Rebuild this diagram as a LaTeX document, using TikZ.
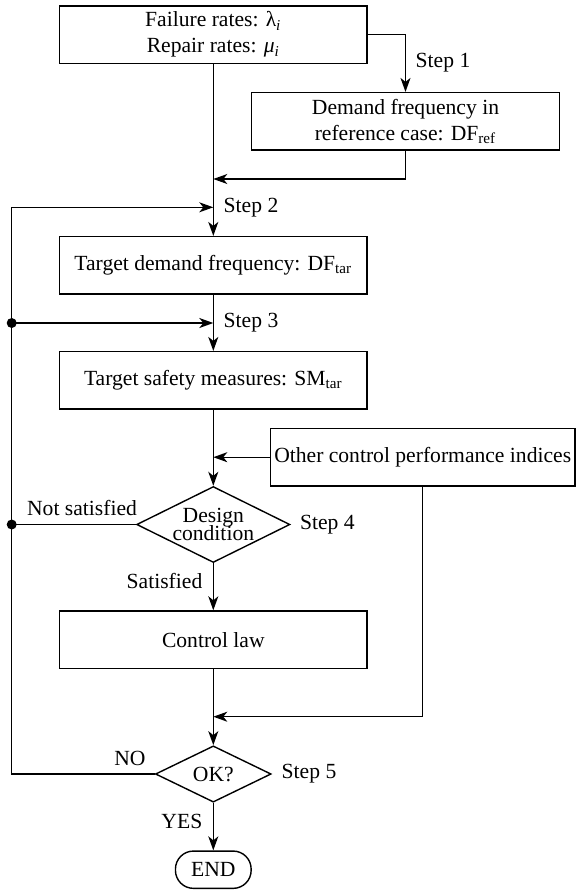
\documentclass[tikz,border=0pt]{standalone}
\usepackage{fontspec}
\setmainfont{Liberation Serif}
\usepackage{tikz}
\usetikzlibrary{arrows.meta, positioning, shapes.geometric, calc}

\begin{document}
\begin{tikzpicture}[
        x=0.5pt, y=-0.5pt,
        font=\fontsize{10.8}{13}\selectfont,
        line width=0.7pt,
        box/.style={draw, align=center, minimum width=153.75pt, minimum height=28.7pt, inner sep=2pt},
        cond/.style={draw, diamond, aspect=2, align=center, inner sep=-0.5pt, font={\fontsize{10.8}{9.3}\selectfont\lineskiplimit-6pt\relax}},
        endbox/.style={draw, rounded corners=9pt, minimum width=37.85pt, minimum height=18.65pt, inner sep=1pt},
        tag/.style={inner sep=1pt},
        arrow/.style={-{Stealth[length=7pt, width=5pt, inset=2pt]}},
        dot/.style={circle, fill, inner sep=0pt, minimum size=5pt}
    ]
        \useasboundingbox (0,0) rectangle (576,891);

        \node[box] (src) at (213.3,34.5) {Failure rates: λ\textsubscript{\itshape i}\\Repair rates: {\itshape μ}\textsubscript{\itshape i}};
        \node[box, minimum width=154pt] (dfref) at (405.5,121.3) {Demand frequency in\\reference case: DF\textsubscript{ref}};
        \node[box] (dftar) at (213.3,265.3) {Target demand frequency: DF\textsubscript{tar}};
        \node[box] (smtar) at (213.3,380.3) {Target safety measures: SM\textsubscript{tar}};
        \node[box, minimum width=152pt] (other) at (422.7,457.2) {Other control performance indices};
        \node[cond, minimum width=76.65pt, minimum height=38pt] (design) at (213.3,524.5) {Design\\condition};
        \node[box] (law) at (213.3,639.7) {Control law};
        \node[cond, minimum width=57.85pt, minimum height=28.15pt] (ok) at (213.3,774) {OK?};
        \node[endbox] (stop) at (213.3,869.7) {END};

        \coordinate (ret) at (213.3,179);
        \coordinate (loop) at (213.3,207.3);
        \coordinate (fb) at (213.3,323);
        \coordinate (in1) at (213.3,457.2);
        \coordinate (in2) at (213.3,716.7);
        \coordinate (railtop) at (11.7,207.3);
        \coordinate (railbot) at (11.7,774);
        \node[dot] (dot3) at (11.7,323) {};
        \node[dot] (dot4) at (11.7,524.5) {};

        \draw[arrow] (src.east) -| (dfref.north);
        \draw[arrow] (src.south) -- (dftar.north);
        \draw[arrow] (dfref.south) |- (ret);
        \draw[arrow] (ok.west) -- (railbot) -- (railtop) -- (loop);
        \draw[arrow] (dot3.center) -- (fb);
        \draw (design.west) -- (dot4.center);
        \draw[arrow] (dftar.south) -- (smtar.north);
        \draw[arrow] (smtar.south) -- (design.north);
        \draw[arrow] (other.west) -- (in1);
        \draw[arrow] (design.south) -- (law.north);
        \draw[arrow] (law.south) -- (ok.north);
        \draw[arrow] (other.south) |- (in2);
        \draw[arrow] (ok.south) -- (stop.north);

        \node[tag, anchor=west] (s1) at (413,62.3) {Step 1};
        \node[tag, anchor=west] (s2) at (221,207.3) {Step 2};
        \node[tag, anchor=west] (s3) at (221,323) {Step 3};
        \node[tag, anchor=west] (s4) at (297.4,524.5) {Step 4};
        \node[tag, anchor=west] (s5) at (279,774) {Step 5};
        \node[tag] (ns) at (82,508) {Not satisfied};
        \node[tag, anchor=east] (sat) at (205,580.7) {Satisfied};
        \node[tag] (no) at (130,758) {NO};
        \node[tag, anchor=east] (yes) at (205,821) {YES};
    \end{tikzpicture}
\end{document}
